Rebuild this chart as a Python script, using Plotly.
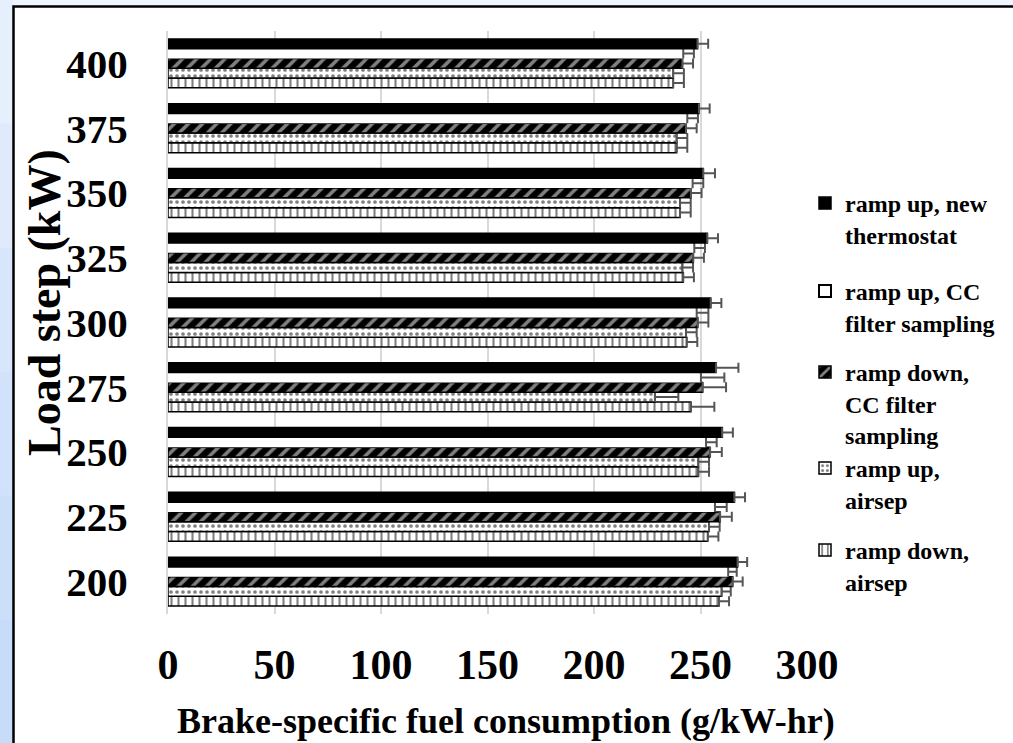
import plotly.graph_objects as go

loads = ["200", "225", "250", "275", "300", "325", "350", "375", "400"]

thermostat = [267.4, 265.9, 260.2, 257.3, 254.8, 253.2, 251.3, 249.3, 248.6]
thermostat_err = [4.5, 5, 5, 10.5, 5, 5, 5.5, 5, 5]

cc_up = [263.0, 256.8, 252.6, 250.2, 248.2, 247.1, 246.3, 243.8, 241.9]
cc_up_err = [4, 5.5, 5, 11, 5.5, 5, 5, 5, 5]

cc_down = [265.1, 259.2, 254.5, 251.0, 248.7, 246.6, 245.5, 243.2, 241.5]
cc_down_err = [4.7, 5.5, 5.5, 11, 5, 5, 5, 5, 5]

airsep_up = [259.9, 254.0, 249.0, 228.6, 243.2, 241.5, 240.4, 238.8, 237.2]
airsep_up_err = [4.3, 5, 5, 11, 5, 5, 5, 5, 5]

airsep_down = [258.7, 253.4, 249.0, 245.5, 243.5, 241.9, 240.4, 238.8, 237.2]
airsep_down_err = [4.7, 5, 5, 11, 5, 5, 5, 5, 5]

names = ["ramp up, new<br>thermostat",
         "ramp up, CC<br>filter sampling",
         "ramp down,<br>CC filter<br>sampling",
         "ramp up,<br>airsep",
         "ramp down,<br>airsep"]

x_ticks = [0, 50, 100, 150, 200, 250, 300]

FONT = "Liberation Serif"
ERR_COLOR = "#555555"


def err(vals):
    return dict(type="data", array=vals, arrayminus=[0] * len(vals), symmetric=False,
                color=ERR_COLOR, thickness=2, width=5)


fig = go.Figure()

# bottom of each group first
fig.add_trace(go.Bar(
    y=loads, x=airsep_down, orientation="h", name=names[4], legend="legend5",
    marker=dict(color="white", line=dict(color="black", width=1.5),
                pattern=dict(shape="|", fgcolor="black", bgcolor="white", size=7, solidity=0.3)),
    error_x=err(airsep_down_err)))
fig.add_trace(go.Bar(
    y=loads, x=airsep_up, orientation="h", name=names[3], legend="legend4",
    marker=dict(color="white", line=dict(color="black", width=1.5),
                pattern=dict(shape=".", fgcolor="black", bgcolor="white", size=6, solidity=0.3)),
    error_x=err(airsep_up_err)))
fig.add_trace(go.Bar(
    y=loads, x=cc_down, orientation="h", name=names[2], legend="legend3",
    marker=dict(color="black", line=dict(color="black", width=1.5),
                pattern=dict(shape="/", fgcolor="white", bgcolor="black", size=10, solidity=0.35)),
    error_x=err(cc_down_err)))
fig.add_trace(go.Bar(
    y=loads, x=cc_up, orientation="h", name=names[1], showlegend=False,
    marker=dict(color="white", line=dict(color="white", width=0)),
    error_x=err(cc_up_err)))
fig.add_trace(go.Bar(
    y=loads, x=thermostat, orientation="h", name=names[0], legend="legend",
    marker=dict(color="black", line=dict(color="black", width=1.5)),
    error_x=err(thermostat_err)))
# legend entry for the white series
fig.add_trace(go.Scatter(
    x=[None], y=[None], mode="markers", name=names[1], legend="legend2",
    marker=dict(symbol="square", size=12, color="white", line=dict(color="black", width=2))))

L, R, T, B = 168, 206, 31, 129
W, H = 1013, 743
pw, ph = W - L - R, H - T - B


def px_x(px):
    return (px - L) / pw


def px_y(py):
    return (H - B - py) / ph


leg_font = dict(family=FONT, size=24, color="black", weight="bold")


def leg(top):
    return dict(x=px_x(805), xanchor="left", y=px_y(top), yanchor="top",
                bgcolor="rgba(0,0,0,0)", font=leg_font, itemwidth=30, valign="top")


shapes = []
# light blue background bands on left strip
bands = ["#e6effc", "#dfeafb", "#d8e6fb", "#d1e2fa", "#cbdff9", "#c6dcf9"]
for i, c in enumerate(bands):
    y0 = i * H / len(bands)
    y1 = (i + 1) * H / len(bands)
    shapes.append(dict(type="rect", xref="paper", yref="paper", layer="below",
                       x0=px_x(0), x1=px_x(13), y0=px_y(y1), y1=px_y(y0),
                       fillcolor=c, line=dict(width=0)))
shapes.append(dict(type="rect", xref="paper", yref="paper", layer="below",
                   x0=px_x(13), x1=px_x(W), y0=px_y(6), y1=px_y(0),
                   fillcolor="#eef5fe", line=dict(width=0)))
# white chart box with black border
shapes.append(dict(type="rect", xref="paper", yref="paper", layer="below",
                   x0=px_x(13.5), x1=px_x(W + 10), y0=px_y(H + 10), y1=px_y(6.5),
                   fillcolor="white", line=dict(color="black", width=2.5)))

fig.update_layout(
    width=W, height=H, autosize=False,
    margin=dict(l=L, r=R, t=T, b=B, pad=0),
    paper_bgcolor="#dae8fb", plot_bgcolor="rgba(0,0,0,0)",
    barmode="group", bargap=0.244, bargroupgap=0,
    font=dict(family=FONT, color="black"),
    shapes=shapes,
    legend=leg(181), legend2=leg(269), legend3=leg(350), legend4=leg(446), legend5=leg(528),
    xaxis=dict(range=[0, 300], tickvals=x_ticks, ticks="", showgrid=True, gridcolor="#d9d9d9",
               gridwidth=1.5, zeroline=False, showline=False,
               tickfont=dict(family=FONT, size=42, color="black", weight="bold"),
               ticklabelstandoff=22),
    yaxis=dict(type="category", categoryorder="array", categoryarray=loads, ticks="",
               showgrid=False, showline=True, linecolor="#d9d9d9", linewidth=2,
               tickfont=dict(family=FONT, size=41, color="black", weight="bold"),
               ticklabelstandoff=30),
    annotations=[
        dict(text="Brake-specific fuel consumption (g/kW-hr)", xref="paper", yref="paper",
             x=px_x(506), y=px_y(721), xanchor="center", yanchor="middle", showarrow=False,
             font=dict(family=FONT, size=36, color="black", weight="bold")),
        dict(text="Load step (kW)", xref="paper", yref="paper", textangle=-90,
             x=px_x(44), y=px_y(303), xanchor="center", yanchor="middle", showarrow=False,
             font=dict(family=FONT, size=46, color="black", weight="bold")),
    ],
)

fig.write_html("out.html")
